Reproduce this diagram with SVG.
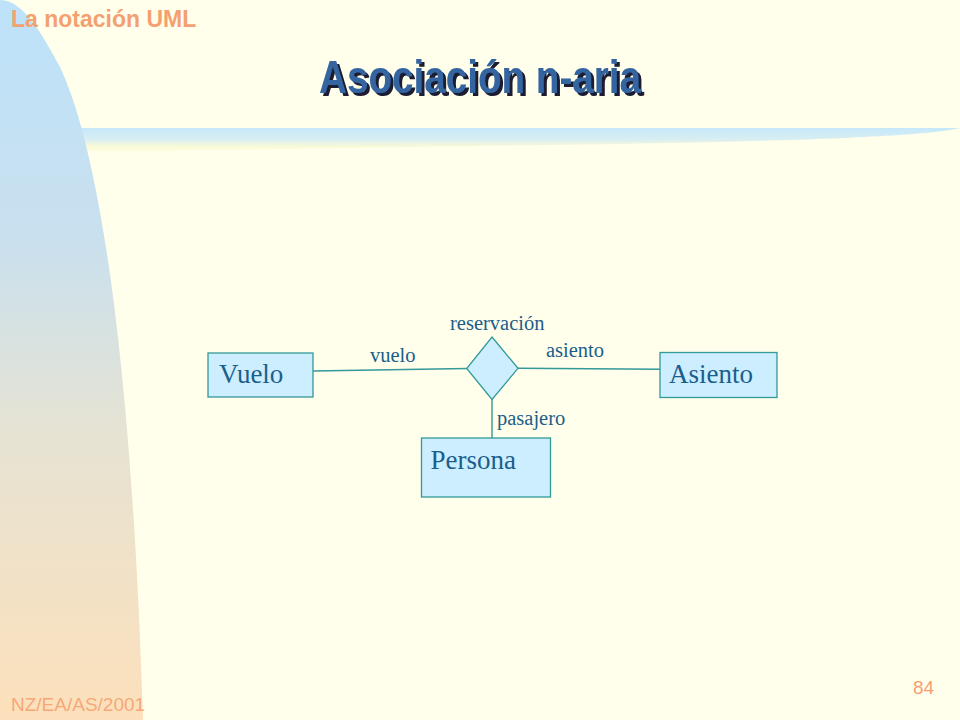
<svg xmlns="http://www.w3.org/2000/svg" width="960" height="720" viewBox="0 0 960 720">
<defs>
<linearGradient id="side" x1="0" y1="0" x2="0" y2="1">
<stop offset="0" stop-color="#bde2fa"/>
<stop offset="0.33" stop-color="#c9e0ee"/>
<stop offset="0.6" stop-color="#e6e3d3"/>
<stop offset="1" stop-color="#fde0bb"/>
</linearGradient>
<linearGradient id="bar" x1="0" y1="0" x2="0" y2="1">
<stop offset="0" stop-color="#c6e8fa"/>
<stop offset="0.45" stop-color="#d8eef2"/>
<stop offset="0.75" stop-color="#fafad6"/>
<stop offset="1" stop-color="#ffffeb"/>
</linearGradient>
<filter id="shadow" x="-5%" y="-20%" width="115%" height="150%">
<feDropShadow dx="3" dy="3" stdDeviation="0.4" flood-color="#1a1f33" flood-opacity="1"/>
</filter>
<style>
.box{fill:#cceeff;stroke:#339999;stroke-width:1.3}
.cls{font-family:"Liberation Serif","Times New Roman",serif;font-size:27px;fill:#1b5e8c}
.lbl{font-family:"Liberation Serif","Times New Roman",serif;font-size:20.5px;fill:#1b5e8c}
.conn{stroke:#339999;stroke-width:1.4;fill:none}
.hdr{font-family:"Liberation Sans",Arial,sans-serif;fill:#f4a070}
.ttl{font-family:"Liberation Sans",Arial,sans-serif;font-weight:bold;font-size:46px;fill:#3465a0}
</style>
</defs>
<rect width="960" height="720" fill="#ffffeb"/>
<path d="M80,128 L960,128 C930,136 800,141 620,144 C400,147 200,150 80,153 Z" fill="url(#bar)"/>
<path d="M0,0 C25,0 45,40 60,67 C90,130 130,300 143,720 L0,720 Z" fill="url(#side)"/>
<text class="hdr" x="11" y="27" font-size="23" font-weight="bold">La notación UML</text>
<text class="hdr" x="11" y="711" font-size="19" fill-opacity="0.9">NZ/EA/AS/2001</text>
<text class="hdr" x="913" y="694" font-size="19">84</text>
<g id="title">
<text class="ttl" x="319" y="93" textLength="322" lengthAdjust="spacingAndGlyphs" filter="url(#shadow)">Asociación n-aria</text>
</g>
<g id="connectors">
<line class="conn" x1="313" y1="371" x2="467" y2="368.5"/>
<line class="conn" x1="518" y1="368.3" x2="660" y2="369.3"/>
<line class="conn" x1="492" y1="399" x2="492" y2="438"/>
<text class="lbl" x="370" y="362">vuelo</text>
<text class="lbl" x="546" y="357">asiento</text>
<text class="lbl" x="497" y="425">pasajero</text>
</g>
<g id="reservacion">
<polygon class="box" points="492,337 518,368.3 492,399.5 466.7,368.5"/>
<text class="lbl" x="450" y="330">reservación</text>
</g>
<g id="vuelo">
<rect class="box" x="208" y="353" width="105" height="44"/>
<text class="cls" x="219" y="383">Vuelo</text>
</g>
<g id="asiento">
<rect class="box" x="660" y="352.5" width="117" height="45"/>
<text class="cls" x="669" y="382.5">Asiento</text>
</g>
<g id="persona">
<rect class="box" x="421.5" y="438" width="129" height="59"/>
<text class="cls" x="430.5" y="468.5">Persona</text>
</g>
</svg>
